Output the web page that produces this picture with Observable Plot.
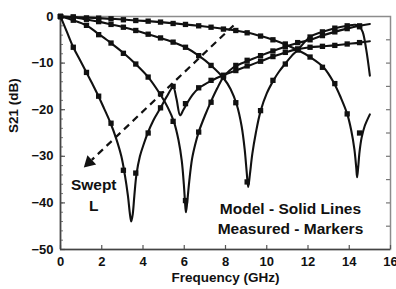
<!DOCTYPE html>
<html><head><meta charset="utf-8">
<script src="https://cdn.jsdelivr.net/npm/d3@7"></script>
<script src="https://cdn.jsdelivr.net/npm/@observablehq/plot@0.6"></script>
<style>html,body{margin:0;padding:0;background:#fff}svg{display:block}</style>
</head><body><div id="chart"></div>
<script>
// ---- data ----
const xTicks = [0, 2, 4, 6, 8, 10, 12, 14, 16];
const yTicks = [0, -10, -20, -30, -40, -50];

// model curves (solid lines): [frequency GHz, S21 dB]
const modelA = [[0,0],[0.3,-3.2],[0.62,-6.6],[0.95,-9.4],[1.26,-12],[1.55,-14.5],[1.83,-17],[2.1,-19.6],[2.42,-22.8],[2.7,-26.2],[2.95,-30],[3.12,-34],[3.27,-38.5],[3.37,-42.5],[3.43,-44],[3.5,-42.5],[3.58,-38.5],[3.68,-34],[3.85,-30],[4.05,-27.2],[4.23,-25],[4.5,-22.3],[4.85,-19.6],[5.15,-17.2],[5.46,-15.2],[5.62,-17.6],[5.8,-21.2],[5.96,-20],[6.14,-18.6],[6.4,-16.8],[6.7,-15.4],[7.3,-13.8],[7.9,-12.6],[8.5,-11.6],[9.1,-10.6],[9.7,-9.6],[10.3,-8.6],[10.9,-7.7],[11.5,-7.0],[12.1,-6.6],[12.7,-6.4],[13.3,-6.2],[13.9,-5.9],[14.5,-5.6],[15,-5.3]];
const modelB = [[0,0],[0.62,-0.8],[1.26,-1.9],[1.83,-3.7],[2.45,-5.7],[3.07,-7.9],[3.64,-10.2],[4.25,-13],[4.85,-16.8],[5.2,-19.5],[5.5,-22.6],[5.72,-26.5],[5.88,-31],[5.98,-36],[6.04,-40],[6.08,-42],[6.14,-40],[6.24,-35.5],[6.38,-30.5],[6.54,-27.3],[6.7,-24.8],[7.0,-21.3],[7.3,-18.2],[7.6,-15.4],[7.9,-13],[8.2,-11.6],[8.5,-10.6],[9.1,-9.5],[9.7,-8.4],[10.3,-7.4],[10.9,-6.5],[11.5,-5.7],[12.1,-5.0],[12.7,-4.1],[13.3,-3.3],[13.9,-2.6],[14.5,-2.0],[15,-1.6]];
const modelC = [[0,0],[0.6,-0.15],[1.2,-0.6],[1.85,-1.1],[2.45,-1.7],[3.05,-2.3],[3.65,-3.0],[4.25,-3.8],[4.85,-4.6],[5.45,-5.5],[6.05,-6.6],[6.7,-8.4],[7.3,-10.5],[7.9,-13.2],[8.25,-15.6],[8.55,-19],[8.78,-23.5],[8.93,-28.5],[9.03,-33.5],[9.1,-36.6],[9.18,-34],[9.3,-29.5],[9.47,-25],[9.7,-20.3],[10.0,-16.5],[10.34,-13.6],[10.6,-11.8],[10.9,-10.1],[11.2,-8.5],[11.5,-7.2],[12.1,-4.4],[12.7,-3.3],[13.3,-2.5],[13.9,-2.0],[14.3,-1.8],[14.5,-2.2],[14.65,-3.3],[14.82,-7],[15,-12.7]];
const modelD = [[0,0],[0.65,-0.1],[1.3,-0.25],[1.85,-0.35],[2.45,-0.5],[3.05,-0.65],[3.65,-0.85],[4.25,-1.0],[4.85,-1.2],[5.45,-1.45],[6.05,-1.7],[6.7,-2.0],[7.3,-2.3],[7.9,-2.65],[8.5,-3.0],[9.1,-3.5],[9.7,-4.2],[10.3,-5.0],[10.9,-6.0],[11.5,-7.2],[12.1,-8.7],[12.75,-10.9],[13.25,-14.2],[13.6,-17.5],[13.9,-20.9],[14.1,-24.5],[14.25,-28.5],[14.34,-32.5],[14.38,-34.5],[14.43,-32.5],[14.5,-29],[14.6,-26],[14.75,-23.5],[15,-21]];

// measured points (markers)
const measFreq = [0,0.62,1.26,1.85,2.45,3.05,3.65,4.25,4.85,5.46,6.06,6.7,7.3,7.9,8.5,9.05,9.7,10.3,10.9,11.5,12.1,12.7,13.3,13.9,14.5];
const measA = [0,-6.6,-12,-17.1,-22.9,-33,-33.6,-25,-19.6,-15,-18.7,-15.3,-13.7,-12.6,-11.6,-10.6,-9.6,-8.6,-7.7,-7.0,-6.6,-6.4,-6.2,-5.9,-5.6];
const measB = [0,-0.8,-1.9,-3.9,-5.7,-7.9,-10.2,-13,-16.6,-22.5,-39.5,-24.8,-18.4,-12.8,-10.5,-9.4,-8.4,-7.4,-6.5,-5.6,-5.0,-4.1,-3.3,-2.6,-2.0];
const measC = [0,-0.15,-0.6,-1.1,-1.7,-2.3,-3.0,-3.8,-4.6,-5.5,-6.6,-8.4,-10.5,-13,-18.5,-35.5,-20.2,-13.7,-10.2,-7.2,-4.4,-3.3,-2.5,-2.0,-2.2];
const measD = [0,-0.1,-0.3,-0.35,-0.5,-0.7,-0.86,-1.0,-1.2,-1.5,-1.7,-2.0,-2.3,-2.7,-3.0,-3.5,-4.2,-5.0,-5.9,-7.0,-8.7,-10.9,-14.4,-20.9,-25];

// "Swept L" arrow: from [f, dB] to [f, dB]
const arrowFrom = [8.39, -1.93];
const arrowTo = [1.13, -32.4];

// ---- layout ----
const W = 396, H = 289, ML = 60, MR = 6, MT = 16, MB = 40;
const pw = W - ML - MR, ph = H - MT - MB;
const kx = pw / 16, ky = ph / 50;

const measured = [];
[measA, measB, measC, measD].forEach((s, i) =>
  s.forEach((v, j) => measured.push({f: measFreq[j], db: v, series: i})));

// arrow geometry in pixel space -> data
const dxp = (arrowTo[0] - arrowFrom[0]) * kx;
const dyp = -(arrowTo[1] - arrowFrom[1]) * ky;
const len = Math.hypot(dxp, dyp);
const ux = dxp / len, uy = dyp / len;
const headH = 11;
const base = [arrowTo[0] - ux * headH / kx, arrowTo[1] + uy * headH / ky];
const center = [arrowTo[0] - ux * headH * 2 / 3 / kx, arrowTo[1] + uy * headH * 2 / 3 / ky];
const rot = Math.atan2(dxp, -dyp) * 180 / Math.PI;
const triR = Math.sqrt(Math.pow(headH / 3, 2) * 3 * Math.sqrt(3) / Math.PI);

const font = "'Liberation Sans', Arial, Helvetica, sans-serif";
const lineStyle = {stroke: "#111", strokeWidth: 2.1, curve: "catmull-rom"};

const chart = Plot.plot({
  width: W, height: H,
  marginLeft: ML, marginRight: MR, marginTop: MT, marginBottom: MB,
  x: {domain: [0, 16]},
  y: {domain: [-50, 0]},
  style: {fontFamily: font, fontWeight: "bold", fontSize: "13px", color: "#111", background: "#fff"},
  marks: [
    Plot.frame({stroke: "#8c8c8c", strokeWidth: 1.5}),
    // inner ticks
    Plot.tickY(d3.range(-50, 1, 2), {stroke: "#777", strokeWidth: 1, insetRight: pw - 3}),
    Plot.tickY(yTicks, {stroke: "#555", strokeWidth: 1.2, insetRight: pw - 5}),
    Plot.tickY(d3.range(-45, 0, 5), {stroke: "#777", strokeWidth: 1.2, insetLeft: pw - 4}),
    Plot.tickX(xTicks, {stroke: "#555", strokeWidth: 1.2, insetTop: ph - 4}),
    Plot.ruleX([0], {stroke: "#444", strokeWidth: 1.6}),
    Plot.ruleY([-50], {stroke: "#444", strokeWidth: 1.6}),
    Plot.axisX({ticks: xTicks, tickSize: 0, tickPadding: 7, fontSize: 13, fontWeight: "bold", label: null}),
    Plot.axisY({ticks: yTicks, tickSize: 0, tickPadding: 7, fontSize: 13, fontWeight: "bold", label: null}),
    Plot.text(["Frequency (GHz)"], {frameAnchor: "bottom", dy: 32, fontSize: 13.5, fontWeight: "bold"}),
    Plot.text(["S21 (dB)"], {frameAnchor: "left", dx: -47, rotate: -90, fontSize: 13.5, fontWeight: "bold"}),
    // dashed swept arrow
    Plot.link([0], {x1: () => arrowFrom[0], y1: () => arrowFrom[1], x2: () => base[0], y2: () => base[1],
      stroke: "#111", strokeWidth: 2.2, strokeDasharray: "7,5"}),
    Plot.dot([0], {x: () => center[0], y: () => center[1], symbol: "triangle", r: triR, rotate: rot, fill: "#111", stroke: "none"}),
    // model lines
    Plot.line(modelA, lineStyle),
    Plot.line(modelB, lineStyle),
    Plot.line(modelC, lineStyle),
    Plot.line(modelD, lineStyle),
    // measured markers
    Plot.dot(measured, {x: "f", y: "db", symbol: "square", r: 3, fill: "#111", stroke: "none"}),
    // annotations
    Plot.text(["Swept\nL"], {x: () => 1.61, y: () => -38.1, fontSize: 15.5, fontWeight: "bold", lineHeight: 1.3}),
    Plot.text(["Model - Solid Lines\nMeasured - Markers"], {x: () => 11.15, y: () => -43.2, fontSize: 15.5, fontWeight: "bold", lineHeight: 1.25})
  ]
});
document.getElementById("chart").appendChild(chart);
</script>
</body></html>
